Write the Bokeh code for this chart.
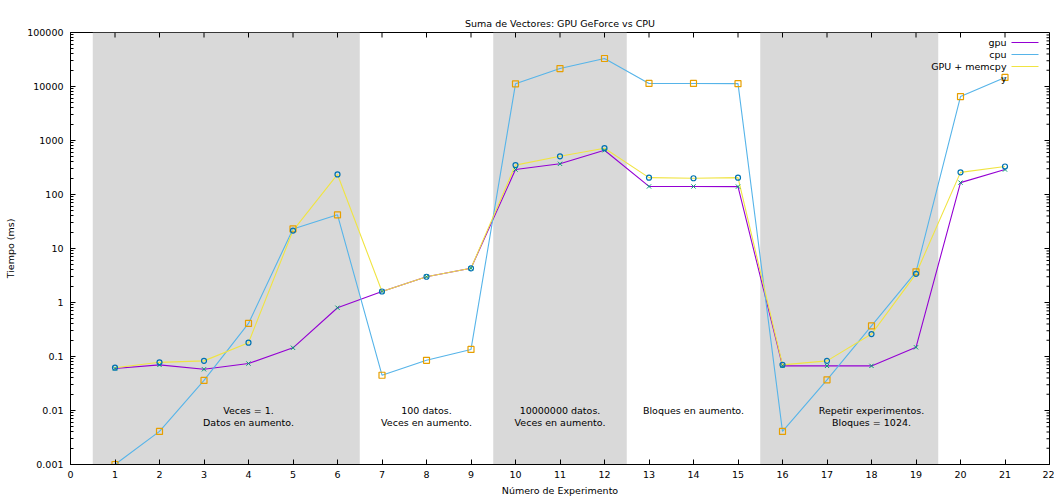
import math
from bokeh.plotting import figure
from bokeh.models import FixedTicker, Range1d
from bokeh.core.properties import value
from bokeh.embed import file_html
from bokeh.resources import INLINE

# ---------------- data ----------------
experiment = list(range(1, 22))
gpu = [0.060, 0.070, 0.058, 0.074, 0.145, 0.80, 1.6, 3.0, 4.3,
       290, 370, 660, 141, 141, 140, 0.067, 0.067, 0.067, 0.148, 166, 290]
cpu = [0.001, 0.0041, 0.036, 0.41, 23, 42, 0.045, 0.085, 0.135,
       11200, 21500, 33000, 11400, 11400, 11300, 0.0041, 0.037, 0.37, 3.7, 6500, 14700]
gpu_memcpy = [0.062, 0.078, 0.083, 0.18, 21.5, 235, 1.6, 3.0, 4.3,
              350, 510, 720, 205, 200, 205, 0.070, 0.083, 0.26, 3.4, 257, 330]

band_start = [0.5, 9.5, 15.5]
band_end = [6.5, 12.5, 19.5]

note_x = [4, 8, 11, 14, 18]
note_line1 = ["Veces = 1.", "100 datos.", "10000000 datos.", "Bloques en aumento.", "Repetir experimentos."]
note_line2 = ["Datos en aumento.", "Veces en aumento.", "Veces en aumento.", "", "Bloques = 1024."]
note_y = 0.01

x_ticks = list(range(0, 23))
y_ticks = [0.001, 0.01, 0.1, 1, 10, 100, 1000, 10000, 100000]
y_tick_labels = ["0.001", "0.01", "0.1", "1", "10", "100", "1000", "10000", "100000"]

legend_labels = ["gpu", "cpu", "GPU + memcpy", "y"]

# ---------------- styling ----------------
FONT = "DejaVu Sans"
FS = "9.5px"
C_GPU, C_CPU, C_MEM = "#9400d3", "#56b4e9", "#f0e442"
P_GPU, P_CPU, P_MEM = "#009e73", "#e69f00", "#0072b2"

X0, X1 = 0, 22
Y0, Y1 = 0.001, 100000
FL, FT = 70, 32
FRAME_W, FRAME_H = 979, 432

p = figure(width=1054, height=498, y_axis_type="log",
           x_range=Range1d(X0, X1), y_range=Range1d(Y0, Y1),
           output_backend="svg", toolbar_location=None,
           min_border_left=FL, min_border_right=1054 - FL - FRAME_W,
           min_border_top=FT, min_border_bottom=498 - FT - FRAME_H)

p.title.text = "Suma de Vectores: GPU GeForce vs CPU"
p.title.align = "center"
p.title.text_font = FONT
p.title.text_font_size = FS
p.title.text_font_style = "normal"
p.title.text_color = "#000000"
p.title.standoff = 8

p.background_fill_color = "white"
p.border_fill_color = "white"
p.outline_line_color = "black"
p.outline_line_width = 1
p.grid.visible = False

minor_y = [m * 10.0 ** k for k in range(-3, 5) for m in range(2, 10)]
yt = FixedTicker(ticks=y_ticks, minor_ticks=minor_y)
xt = FixedTicker(ticks=x_ticks, minor_ticks=[])

def style_axis(ax):
    ax.axis_line_color = "black"
    ax.major_tick_line_color = "black"
    ax.minor_tick_line_color = "black"
    ax.major_tick_in = 5
    ax.major_tick_out = 0
    ax.minor_tick_in = 3
    ax.minor_tick_out = 0
    ax.major_label_text_font = FONT
    ax.major_label_text_font_size = FS
    ax.major_label_text_color = "#000000"
    ax.axis_label_text_font = FONT
    ax.axis_label_text_font_size = FS
    ax.axis_label_text_font_style = "normal"
    ax.axis_label_text_color = "#000000"

p.yaxis.ticker = yt
p.xaxis.ticker = xt
p.yaxis.major_label_overrides = {t: s for t, s in zip(y_ticks, y_tick_labels)}
style_axis(p.xaxis[0])
style_axis(p.yaxis[0])
p.xaxis.axis_label = "Número de Experimento"
p.yaxis.axis_label = "Tiempo (ms)"
p.xaxis.major_label_standoff = 6
p.xaxis.axis_label_standoff = 4
p.yaxis.major_label_standoff = 7
p.yaxis.axis_label_standoff = 8

# helpers: pixel offsets -> data (for mirror ticks and legend placement)
def px_x(px):
    return X0 + (px - FL) / FRAME_W * (X1 - X0)

def px_y(py):
    lo, hi = math.log10(Y0), math.log10(Y1)
    return 10 ** (hi - (py - FT) / FRAME_H * (hi - lo))

# gray bands
p.quad(left=band_start, right=band_end, bottom=Y0, top=Y1,
       fill_color="#d9d9d9", line_color=None)

# mirror ticks (top and right)
p.segment(x0=x_ticks, x1=x_ticks, y0=[Y1] * len(x_ticks), y1=[px_y(FT + 5)] * len(x_ticks),
          line_color="black", line_width=1)
xr = FL + FRAME_W
p.segment(x0=[X1] * len(y_ticks), x1=[px_x(xr - 5)] * len(y_ticks), y0=y_ticks, y1=y_ticks,
          line_color="black", line_width=1)
p.segment(x0=[X1] * len(minor_y), x1=[px_x(xr - 3)] * len(minor_y), y0=minor_y, y1=minor_y,
          line_color="black", line_width=1)

# lines
p.line(experiment, gpu, line_color=C_GPU, line_width=1.1)
p.line(experiment, cpu, line_color=C_CPU, line_width=1.1)
p.line(experiment, gpu_memcpy, line_color=C_MEM, line_width=1.1)

# points
p.scatter(experiment, gpu, marker="x", size=6, line_color=P_GPU, line_width=1)
p.scatter(experiment, cpu, marker="square", size=6, line_color=P_CPU,
          fill_color=None, line_width=1.2)
p.scatter(experiment, gpu_memcpy, marker="circle", size=5, line_color=P_MEM,
          fill_color=None, line_width=1.2)

# notes
p.text(x=note_x, y=[note_y] * len(note_x), text=note_line1,
       text_align="center", text_baseline="middle",
       text_font=value(FONT), text_font_size=value(FS), text_color="#000000")
p.text(x=note_x[:3] + note_x[4:], y=[note_y] * 4, text=note_line2[:3] + note_line2[4:], y_offset=12,
       text_align="center", text_baseline="middle",
       text_font=value(FONT), text_font_size=value(FS), text_color="#000000")

# legend (gnuplot style: label right-aligned, sample on the right)
rows = [42, 54, 66, 78]
p.text(x=[px_x(1006)] * 4, y=[px_y(r) for r in rows], text=legend_labels,
       text_align="right", text_baseline="middle",
       text_font=value(FONT), text_font_size=value(FS), text_color="#000000")
for r, c in zip(rows[:3], [C_GPU, C_CPU, C_MEM]):
    p.line([px_x(1011), px_x(1038)], [px_y(r), px_y(r)], line_color=c, line_width=1.1)

open("out.html", "w").write(file_html(p, INLINE))
